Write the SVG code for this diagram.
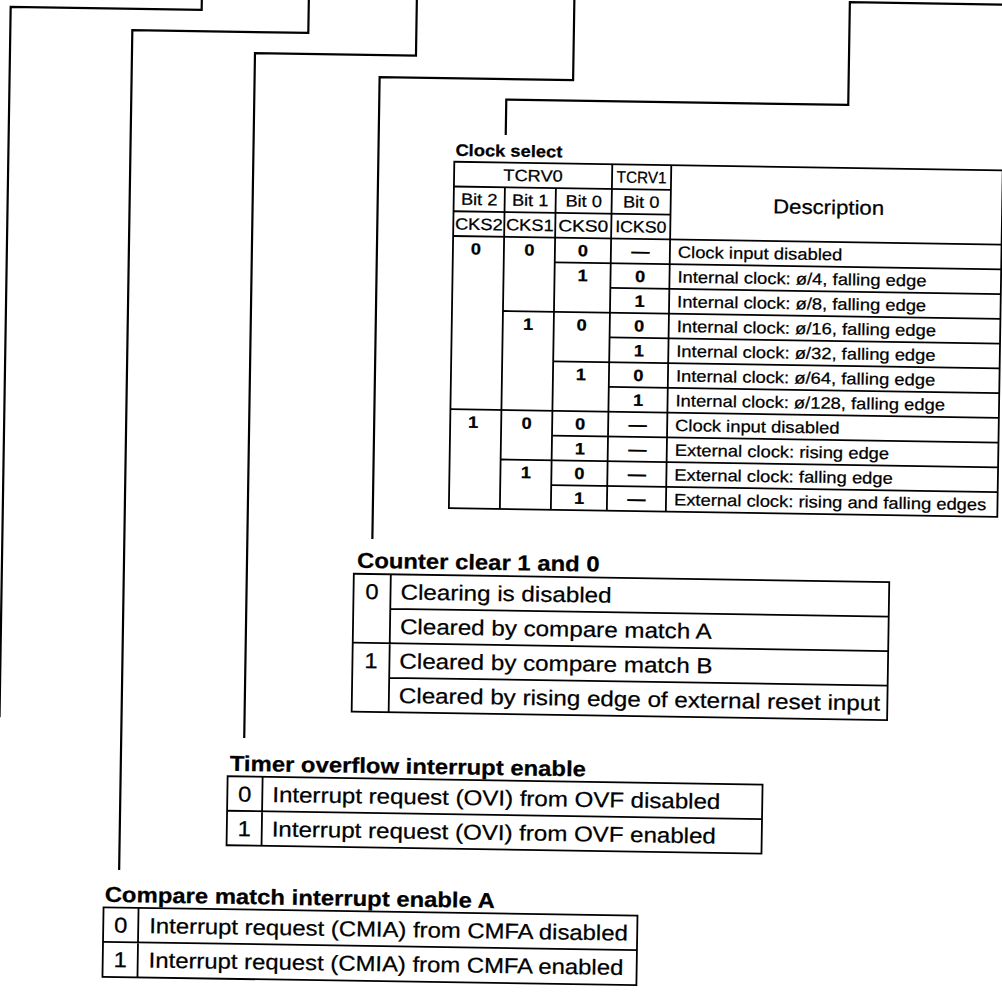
<svg xmlns="http://www.w3.org/2000/svg" width="1002" height="1003" viewBox="0 0 1002 1003">
<style>
  text { font-family: "Liberation Sans", Arial, Helvetica, sans-serif; fill: #000; stroke: #000; stroke-width: 0.25; }
  .lbl { font-size: 21.5px; font-weight: bold; }
  .body { font-size: 21.5px; }
  .small { font-size: 16.4px; }
  .sb { font-size: 16.4px; font-weight: bold; }
  .desc { font-size: 20px; }
  .cap { font-size: 16.5px; font-weight: bold; }
  .c { text-anchor: middle; }
  .grid { fill: none; stroke: #000; stroke-width: 1.8; }
  .conn { fill: none; stroke: #000; stroke-width: 2.2; stroke-linejoin: miter; }
</style>
<rect x="0" y="0" width="1002" height="1003" fill="#fff"/>
<g transform="rotate(0.9 500 500)">
  <g id="connectors" class="conn">
    <path d="M194 -30 V14.7 H3 V725"/>
    <path d="M301 -30 V36 H125 V876"/>
    <path d="M409 -30 V57 H248 V742"/>
    <path d="M566.5 -30 V79 H373 V541"/>
    <path d="M1040 -3.2 H842 V99.5 H500 V135"/>
  </g>

  <g id="clock-select">
    <text class="cap" transform="translate(450 156.5) scale(1.11 1)">Clock select</text>
    <g class="grid">
      <rect x="449" y="162.5" width="548.5" height="346.5"/>
      <path d="M449 187.25 H666 M449 212 H666 M449 236.75 H997.5"/>
      <path d="M500 187.25 V509 M551 187.25 V509 M607 162.5 V509 M666 162.5 V509"/>
      <path d="M551 261.5 H997.5 M607 286.25 H997.5 M500 311 H997.5 M607 335.75 H997.5 M551 360.5 H997.5 M607 385.25 H997.5 M449 410 H997.5 M551 434.75 H997.5 M500 459.5 H997.5 M551 484.25 H997.5"/>
    </g>
    <text class="small c" transform="translate(528 180.8) scale(1.11 1)">TCRV0</text>
    <text class="small c" transform="translate(636.5 180.8) scale(1.11 1)" textLength="45" lengthAdjust="spacingAndGlyphs">TCRV1</text>
    <text class="small c" transform="translate(474.5 205.5) scale(1.11 1)">Bit 2</text>
    <text class="small c" transform="translate(525.5 205.5) scale(1.11 1)">Bit 1</text>
    <text class="small c" transform="translate(579 205.5) scale(1.11 1)">Bit 0</text>
    <text class="small c" transform="translate(636.5 205.5) scale(1.11 1)">Bit 0</text>
    <text class="small c" transform="translate(474.5 230.3) scale(1.11 1)" textLength="43" lengthAdjust="spacingAndGlyphs">CKS2</text>
    <text class="small c" transform="translate(525.5 230.3) scale(1.11 1)" textLength="43" lengthAdjust="spacingAndGlyphs">CKS1</text>
    <text class="small c" transform="translate(579 230.3) scale(1.11 1)" textLength="45" lengthAdjust="spacingAndGlyphs">CKS0</text>
    <text class="small c" transform="translate(636.5 230.3) scale(1.11 1)" textLength="46" lengthAdjust="spacingAndGlyphs">ICKS0</text>
    <text class="desc c" transform="translate(824 209) scale(1.11 1)">Description</text>

    <text class="sb c" transform="translate(472 255.05) scale(1.11 1)">0</text>
    <text class="sb c" transform="translate(472 428.3) scale(1.11 1)">1</text>

    <text class="sb c" transform="translate(525.5 255.05) scale(1.11 1)">0</text>
    <text class="sb c" transform="translate(525.5 329.3) scale(1.11 1)">1</text>
    <text class="sb c" transform="translate(525.5 428.3) scale(1.11 1)">0</text>
    <text class="sb c" transform="translate(525.5 477.8) scale(1.11 1)">1</text>

    <text class="sb c" transform="translate(579 255.05) scale(1.11 1)">0</text>
    <text class="sb c" transform="translate(579 279.8) scale(1.11 1)">1</text>
    <text class="sb c" transform="translate(579 329.3) scale(1.11 1)">0</text>
    <text class="sb c" transform="translate(579 378.8) scale(1.11 1)">1</text>
    <text class="sb c" transform="translate(579 428.3) scale(1.11 1)">0</text>
    <text class="sb c" transform="translate(579 453.05) scale(1.11 1)">1</text>
    <text class="sb c" transform="translate(579 477.8) scale(1.11 1)">0</text>
    <text class="sb c" transform="translate(579 502.55) scale(1.11 1)">1</text>

    <text class="sb c" transform="translate(636.5 255.05) scale(1.11 1)">—</text>
    <text class="sb c" transform="translate(636.5 279.8) scale(1.11 1)">0</text>
    <text class="sb c" transform="translate(636.5 304.55) scale(1.11 1)">1</text>
    <text class="sb c" transform="translate(636.5 329.3) scale(1.11 1)">0</text>
    <text class="sb c" transform="translate(636.5 354.05) scale(1.11 1)">1</text>
    <text class="sb c" transform="translate(636.5 378.8) scale(1.11 1)">0</text>
    <text class="sb c" transform="translate(636.5 403.55) scale(1.11 1)">1</text>
    <text class="sb c" transform="translate(636.5 428.3) scale(1.11 1)">—</text>
    <text class="sb c" transform="translate(636.5 453.05) scale(1.11 1)">—</text>
    <text class="sb c" transform="translate(636.5 477.8) scale(1.11 1)">—</text>
    <text class="sb c" transform="translate(636.5 502.55) scale(1.11 1)">—</text>

    <text class="small" transform="translate(674 255.05) scale(1.12 1)">Clock input disabled</text>
    <text class="small" transform="translate(674 279.8) scale(1.12 1)">Internal clock: ø/4, falling edge</text>
    <text class="small" transform="translate(674 304.55) scale(1.12 1)">Internal clock: ø/8, falling edge</text>
    <text class="small" transform="translate(674 329.3) scale(1.12 1)">Internal clock: ø/16, falling edge</text>
    <text class="small" transform="translate(674 354.05) scale(1.12 1)">Internal clock: ø/32, falling edge</text>
    <text class="small" transform="translate(674 378.8) scale(1.12 1)">Internal clock: ø/64, falling edge</text>
    <text class="small" transform="translate(674 403.55) scale(1.12 1)">Internal clock: ø/128, falling edge</text>
    <text class="small" transform="translate(674 428.3) scale(1.12 1)">Clock input disabled</text>
    <text class="small" transform="translate(674 453.05) scale(1.12 1)">External clock: rising edge</text>
    <text class="small" transform="translate(674 477.8) scale(1.12 1)">External clock: falling edge</text>
    <text class="small" transform="translate(674 502.55) scale(1.12 1)">External clock: rising and falling edges</text>
  </g>

  <g id="counter-clear">
    <text class="lbl" transform="translate(358 570) scale(1.11 1)">Counter clear 1 and 0</text>
    <g class="grid">
      <rect x="355" y="576" width="535.5" height="138"/>
      <path d="M392 576 V714 M392 610.5 H890.5 M355 645 H890.5 M392 679.5 H890.5"/>
    </g>
    <text class="body c" transform="translate(373.5 601) scale(1.11 1)">0</text>
    <text class="body c" transform="translate(373.5 670) scale(1.11 1)">1</text>
    <text class="body" transform="translate(402 601) scale(1.125 1)">Clearing is disabled</text>
    <text class="body" transform="translate(402 635.5) scale(1.125 1)">Cleared by compare match A</text>
    <text class="body" transform="translate(402 670) scale(1.125 1)">Cleared by compare match B</text>
    <text class="body" transform="translate(402 704.5) scale(1.125 1)">Cleared by rising edge of external reset input</text>
  </g>

  <g id="timer-overflow">
    <text class="lbl" transform="translate(234 775) scale(1.11 1)">Timer overflow interrupt enable</text>
    <g class="grid">
      <rect x="232" y="780.5" width="535" height="69"/>
      <path d="M267 780.5 V849.5 M232 815 H767"/>
    </g>
    <text class="body c" transform="translate(249.5 805.5) scale(1.11 1)">0</text>
    <text class="body c" transform="translate(249.5 840) scale(1.11 1)">1</text>
    <text class="body" transform="translate(277 805.5) scale(1.12 1)">Interrupt request (OVI) from OVF disabled</text>
    <text class="body" transform="translate(277 840) scale(1.12 1)">Interrupt request (OVI) from OVF enabled</text>
  </g>

  <g id="compare-match-a">
    <text class="lbl" transform="translate(111 908) scale(1.11 1)">Compare match interrupt enable A</text>
    <g class="grid">
      <rect x="110" y="913.5" width="534" height="69.5"/>
      <path d="M145 913.5 V983 M110 948 H644"/>
    </g>
    <text class="body c" transform="translate(127.5 938.5) scale(1.11 1)">0</text>
    <text class="body c" transform="translate(127.5 973) scale(1.11 1)">1</text>
    <text class="body" transform="translate(156 938.5) scale(1.11 1)">Interrupt request (CMIA) from CMFA disabled</text>
    <text class="body" transform="translate(156 973) scale(1.11 1)">Interrupt request (CMIA) from CMFA enabled</text>
  </g>
</g>
</svg>
